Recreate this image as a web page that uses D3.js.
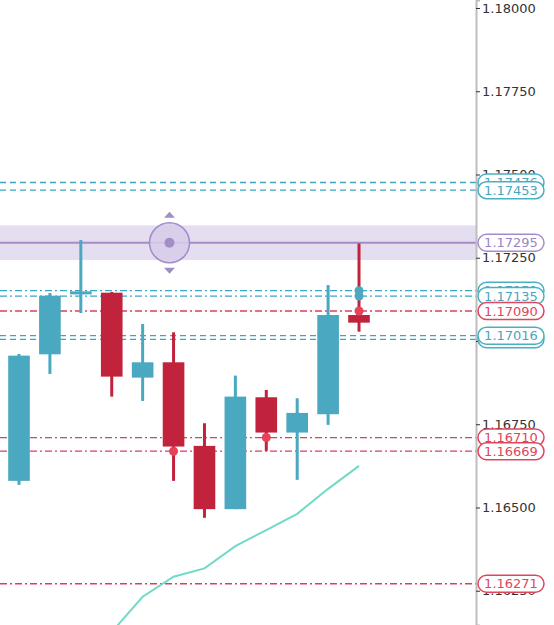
<!DOCTYPE html>
<html><head><meta charset="utf-8">
<script src="https://cdn.jsdelivr.net/npm/d3@7/dist/d3.min.js"></script>
<style>html,body{margin:0;padding:0;background:#fff;overflow:hidden}</style>
</head><body><svg id="c" width="554" height="625"></svg>
<script>
const candles = ["c1","c2","c3","c4","c5","c6","c7","c8","c9","c10","c11","c12"];
const open  = [1.16580,1.16960,1.17140,1.17145,1.16890,1.16936,1.16685,1.16495,1.16831,1.16725,1.16780,1.17078];
const high  = [1.16961,1.17144,1.17303,1.17147,1.17051,1.17026,1.16753,1.16896,1.16853,1.16828,1.17168,1.17293];
const low   = [1.16568,1.16901,1.17084,1.16833,1.16820,1.16580,1.16469,1.16495,1.16670,1.16583,1.16748,1.17028];
const close = [1.16956,1.17136,1.17149,1.16893,1.16936,1.16683,1.16495,1.16833,1.16725,1.16784,1.17078,1.17055];
const maValues = [null,null,null,1.16126,1.16232,1.16292,1.16317,1.16384,1.16432,1.16481,1.16556,1.16625];
const tickValues = [1.16250,1.16500,1.16750,1.17000,1.17250,1.17500,1.17750,1.18000];
// horizontal levels: value, kind, style (drawn back to front)
const levelValues = [1.17476,1.17453,1.17151,1.17135,1.17005,1.17016,1.17090,1.16710,1.16669,1.16271];
const levelKinds  = ["teal","teal","teal","teal","teal","teal","red","red","red","red"];
const levelDash   = ["dash","dash","dashdot","dashdot","dash","dash","dashdot","dashdot","dashdot","dashdot"];
const selectedLevel = 1.17295;
const markerCandle = [5,8,11,11,11];
const markerValues = [1.16669,1.16710,1.17151,1.17135,1.17090];
const markerKinds  = ["red","red","teal","teal","red"];

const W = 554, H = 625, axisX = 476;
const col = {teal:"#4aa8c0", red:"#c1233c", redMark:"#e6435b", redLine:"#d9405a", tealLine:"#3ba6bf",
  tealLabel:"#4ab0c0", redLabel:"#e0455d", purple:"#a38dc9", band:"#e5ddf0", ma:"#72dac6"};

const svg = d3.select("#c");
const y = d3.scaleLinear().domain([1.161471, 1.180240]).range([H, 0]);
const x = d3.scaleBand().domain(candles).range([3.55, 3.55 + 12*30.91]).padding(0);
const bw = x.bandwidth()*0.7;
const cx = i => x(candles[i]) + x.bandwidth()/2;

// selected band
const bandHalf = 0.00052;
svg.append("rect").attr("x",0).attr("width",axisX).attr("y",y(selectedLevel+bandHalf))
  .attr("height",y(selectedLevel-bandHalf)-y(selectedLevel+bandHalf)).attr("fill",col.band);

// level lines
const dashes = {dash:"6,4", dashdot:"7,3,2,3"};
levelValues.forEach((v,i)=>{
  svg.append("line").attr("x1",0).attr("x2",axisX).attr("y1",y(v)).attr("y2",y(v))
    .attr("stroke", levelKinds[i]==="teal"?col.tealLine:col.redLine).attr("stroke-width",1.3)
    .attr("stroke-dasharray",dashes[levelDash[i]]);
});
svg.append("line").attr("x1",0).attr("x2",axisX).attr("y1",y(selectedLevel)).attr("y2",y(selectedLevel))
  .attr("stroke",col.purple).attr("stroke-width",1.8);

// moving average
const ma = d3.line().defined(d=>d.v!==null).x(d=>cx(d.i)).y(d=>y(d.v));
svg.append("path").datum(maValues.map((v,i)=>({i,v}))).attr("d",ma)
  .attr("fill","none").attr("stroke",col.ma).attr("stroke-width",2);

// candles
const g = svg.append("g");
candles.forEach((c,i)=>{
  const up = close[i] >= open[i];
  const color = up ? col.teal : col.red;
  g.append("line").attr("x1",cx(i)).attr("x2",cx(i)).attr("y1",y(high[i])).attr("y2",y(low[i]))
    .attr("stroke",color).attr("stroke-width",3);
  const top = y(Math.max(open[i],close[i])), bot = y(Math.min(open[i],close[i]));
  g.append("rect").attr("x",cx(i)-bw/2).attr("width",bw).attr("y",top).attr("height",Math.max(3,bot-top))
    .attr("fill",color);
});

// markers
markerValues.forEach((v,i)=>{
  svg.append("circle").attr("cx",cx(markerCandle[i])).attr("cy",y(v)).attr("r",4.5)
    .attr("fill", markerKinds[i]==="teal"?col.teal:col.redMark);
});

// handle
const hx = 169.5, hy = y(selectedLevel);
svg.append("circle").attr("cx",hx).attr("cy",hy).attr("r",20).attr("fill","#d8cdea").attr("fill-opacity",0.85)
  .attr("stroke",col.purple).attr("stroke-width",1.5);
svg.append("circle").attr("cx",hx).attr("cy",hy).attr("r",5).attr("fill",col.purple);
svg.append("path").attr("d",`M${hx-5.5},${hy-25}L${hx+5.5},${hy-25}L${hx},${hy-31}Z`).attr("fill",col.purple);
svg.append("path").attr("d",`M${hx-5.5},${hy+25}L${hx+5.5},${hy+25}L${hx},${hy+31}Z`).attr("fill",col.purple);

// axis
const axis = d3.axisRight(y).tickValues(tickValues).tickFormat(d3.format(".5f")).tickSize(4).tickPadding(2);
const ag = svg.append("g").attr("transform",`translate(${axisX},0)`).call(axis);
ag.select(".domain").attr("stroke","#bdbdbd").attr("stroke-width",2);
ag.selectAll(".tick line").attr("stroke","#333");
ag.selectAll(".tick text").attr("fill","#333").style("font-family","DejaVu Sans").style("font-size","13px");

// pills
function pill(v, stroke, text){
  const pg = svg.append("g").attr("transform",`translate(478,${y(v)})`);
  pg.append("rect").attr("x",0).attr("y",-8.5).attr("width",66).attr("height",17).attr("rx",8.5)
    .attr("fill","#fff").attr("stroke",stroke).attr("stroke-width",1.5);
  pg.append("text").attr("x",33).attr("y",0).attr("dy","0.35em").attr("text-anchor","middle")
    .style("font-family","DejaVu Sans").style("font-size","13px").attr("fill",text).text(d3.format(".5f")(v));
}
levelValues.forEach((v,i)=>{
  if(levelKinds[i]==="teal") pill(v,col.tealLabel,"#4aa6bc"); else pill(v,col.redLabel,col.redLabel);
});
pill(selectedLevel, col.purple, "#9a86c4");
</script></body></html>
